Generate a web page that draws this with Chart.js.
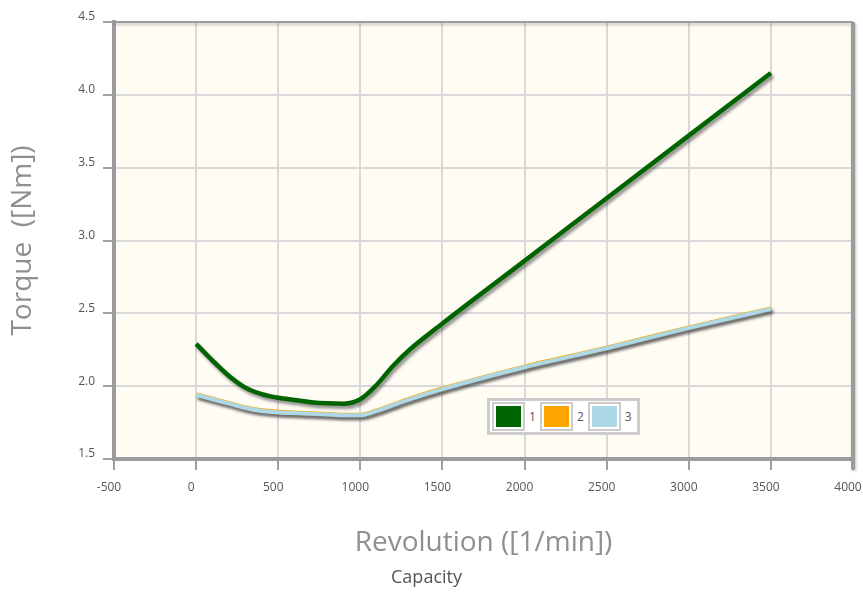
<!DOCTYPE html>
<html>
<head>
<meta charset="utf-8">
<script src="https://cdn.jsdelivr.net/npm/chart.js@4/dist/chart.umd.min.js"></script>
<style>
  html, body { margin: 0; padding: 0; background: #ffffff; }
  #wrap { position: relative; width: 863px; height: 593px; }
  #legendBox {
    position: absolute; left: 487px; top: 398px;
    border: 3px solid #cccccc; background: #ffffff;
    display: flex; align-items: center; padding: 1px 1px 1px 2px;
    font-family: "Open Sans", sans-serif; font-size: 12px; color: #555;
  }
  .sw { border: 2px solid #cccccc; padding: 2px; background: #fff; margin-right: 4px; }
  .sw div { width: 25px; height: 21px; }
  .lb { margin-right: 4px; }
</style>
</head>
<body>
<div id="wrap">
  <canvas id="chart" width="863" height="593"></canvas>
  <div id="legendBox"></div>
</div>
<script>
// revolution values (x) in 1/min
const rpm = [0, 100, 200, 300, 400, 500, 600, 700, 800, 900, 1000, 1100, 1200, 1300, 1500, 2000, 2500, 3000, 3500];

// torque values in Nm for each series
const torque1 = [2.29, 2.175, 2.07, 1.99, 1.945, 1.92, 1.905, 1.89, 1.882, 1.88, 1.91, 2.01, 2.14, 2.25, 2.43, 2.86, 3.29, 3.72, 4.15];
const torque2 = [1.944, 1.914, 1.884, 1.854, 1.834, 1.824, 1.819, 1.814, 1.809, 1.804, 1.804, 1.834, 1.874, 1.914, 1.984, 2.134, 2.264, 2.404, 2.534];
const torque3 = [1.94, 1.91, 1.88, 1.85, 1.83, 1.82, 1.815, 1.81, 1.805, 1.80, 1.80, 1.83, 1.87, 1.91, 1.98, 2.13, 2.26, 2.40, 2.53];

const seriesNames = ["1", "2", "3"];
const seriesColors = ["#006400", "#ffa500", "#add8e6"];
const seriesValues = [torque1, torque2, torque3];

const xTicks = { min: -500, max: 4000, step: 500 };
const yTicks = { min: 1.5, max: 4.5, step: 0.5 };

//builds the legend box out of the series names and colours
const buildLegend = () => {
  const box = document.getElementById("legendBox");
  seriesNames.forEach((name, i) => {
    const sw = document.createElement("span");
    sw.className = "sw";
    const fill = document.createElement("div");
    fill.style.background = seriesColors[i];
    sw.appendChild(fill);
    const lb = document.createElement("span");
    lb.className = "lb";
    lb.textContent = name;
    box.appendChild(sw);
    box.appendChild(lb);
  });
};

//cream background and grey frame around the plot area
const framePlugin = {
  id: "frame",
  beforeDraw(chart) {
    const { ctx, chartArea: a } = chart;
    ctx.save();
    ctx.fillStyle = "#fffcf4";
    ctx.fillRect(a.left, a.top, a.right - a.left, a.bottom - a.top);
    ctx.restore();
  },
  afterDraw(chart) {
    const { ctx, chartArea: a } = chart;
    ctx.save();
    ctx.strokeStyle = "#9c9c9c";
    ctx.shadowColor = "rgba(0,0,0,0.25)";
    ctx.shadowBlur = 3;
    ctx.shadowOffsetX = 1;
    ctx.shadowOffsetY = 2;
    ctx.lineWidth = 2;
    ctx.beginPath();
    ctx.moveTo(a.left, a.top);
    ctx.lineTo(a.right, a.top);
    ctx.stroke();
    ctx.lineWidth = 4;
    ctx.beginPath();
    ctx.moveTo(a.right, a.top);
    ctx.lineTo(a.right, a.bottom + 10);
    ctx.stroke();
    ctx.restore();
  },
};

//drop shadow under each line
const shadowPlugin = {
  id: "lineShadow",
  beforeDatasetDraw(chart) {
    const ctx = chart.ctx;
    ctx.save();
    ctx.shadowColor = "rgba(60,60,60,0.55)";
    ctx.shadowBlur = 3;
    ctx.shadowOffsetX = 2;
    ctx.shadowOffsetY = 3;
  },
  afterDatasetDraw(chart) {
    chart.ctx.restore();
  },
};

//later series are drawn on top (lower order = on top)
const makeDatasets = () =>
  seriesValues.map((vals, i) => ({
    label: seriesNames[i],
    data: rpm.map((x, j) => ({ x: x, y: vals[j] })),
    borderColor: seriesColors[i],
    backgroundColor: seriesColors[i],
    borderWidth: i === 0 ? 4.5 : 4,
    pointRadius: 0,
    fill: false,
    order: seriesValues.length - i,
    cubicInterpolationMode: "monotone",
  }));

//remove auto padding so the plot area keeps its size
const noPad = (scale) => {
  scale.paddingLeft = 0;
  scale.paddingRight = 0;
  scale.paddingTop = 0;
  scale.paddingBottom = 0;
};

document.addEventListener("DOMContentLoaded", () => {
  buildLegend();
  const ctx = document.getElementById("chart").getContext("2d");
  new Chart(ctx, {
    type: "line",
    data: { datasets: makeDatasets() },
    plugins: [framePlugin, shadowPlugin],
    options: {
      responsive: false,
      animation: false,
      layout: { padding: { top: 22, right: 10, left: 0, bottom: 0 } },
      plugins: {
        legend: { display: false },
        tooltip: { enabled: false },
        title: {
          display: true,
          position: "bottom",
          text: "Capacity",
          color: "#555555",
          font: { family: "Open Sans", size: 18, weight: "normal" },
          padding: { top: 0, bottom: 4 },
        },
      },
      scales: {
        x: {
          type: "linear",
          min: xTicks.min,
          max: xTicks.max,
          ticks: {
            stepSize: xTicks.step,
            color: "#555555",
            font: { family: "Open Sans", size: 12 },
            padding: 10,
            labelOffset: -5,
            maxRotation: 0,
            callback: (v) => String(v),
          },
          grid: {
            color: "#d9d9d9",
            lineWidth: 2,
            tickColor: "#a0a0a0",
            tickWidth: 2,
            tickLength: 11,
          },
          border: { color: "#9c9c9c", width: 4 },
          title: {
            display: true,
            text: "Revolution ([1/min])",
            color: "#8f8f8f",
            font: { family: "Open Sans", size: 28 },
            padding: { top: 0, bottom: 8 },
          },
          afterFit(scale) {
            scale.height = 108.4;
            noPad(scale);
          },
        },
        y: {
          min: yTicks.min,
          max: yTicks.max,
          ticks: {
            stepSize: yTicks.step,
            color: "#555555",
            font: { family: "Open Sans", size: 12 },
            padding: 8,
            labelOffset: -5,
            callback: (v) => v.toFixed(1),
          },
          grid: {
            color: "#d9d9d9",
            lineWidth: 2,
            tickColor: "#a0a0a0",
            tickWidth: 2,
            tickLength: 11,
          },
          border: { color: "#9c9c9c", width: 4 },
          title: {
            display: true,
            text: "Torque  ([Nm])",
            color: "#8f8f8f",
            font: { family: "Open Sans", size: 28 },
            padding: { top: 6, bottom: 0 },
          },
          afterFit(scale) {
            scale.width = 114;
            noPad(scale);
          },
        },
      },
    },
  });
});
</script>
</body>
</html>
